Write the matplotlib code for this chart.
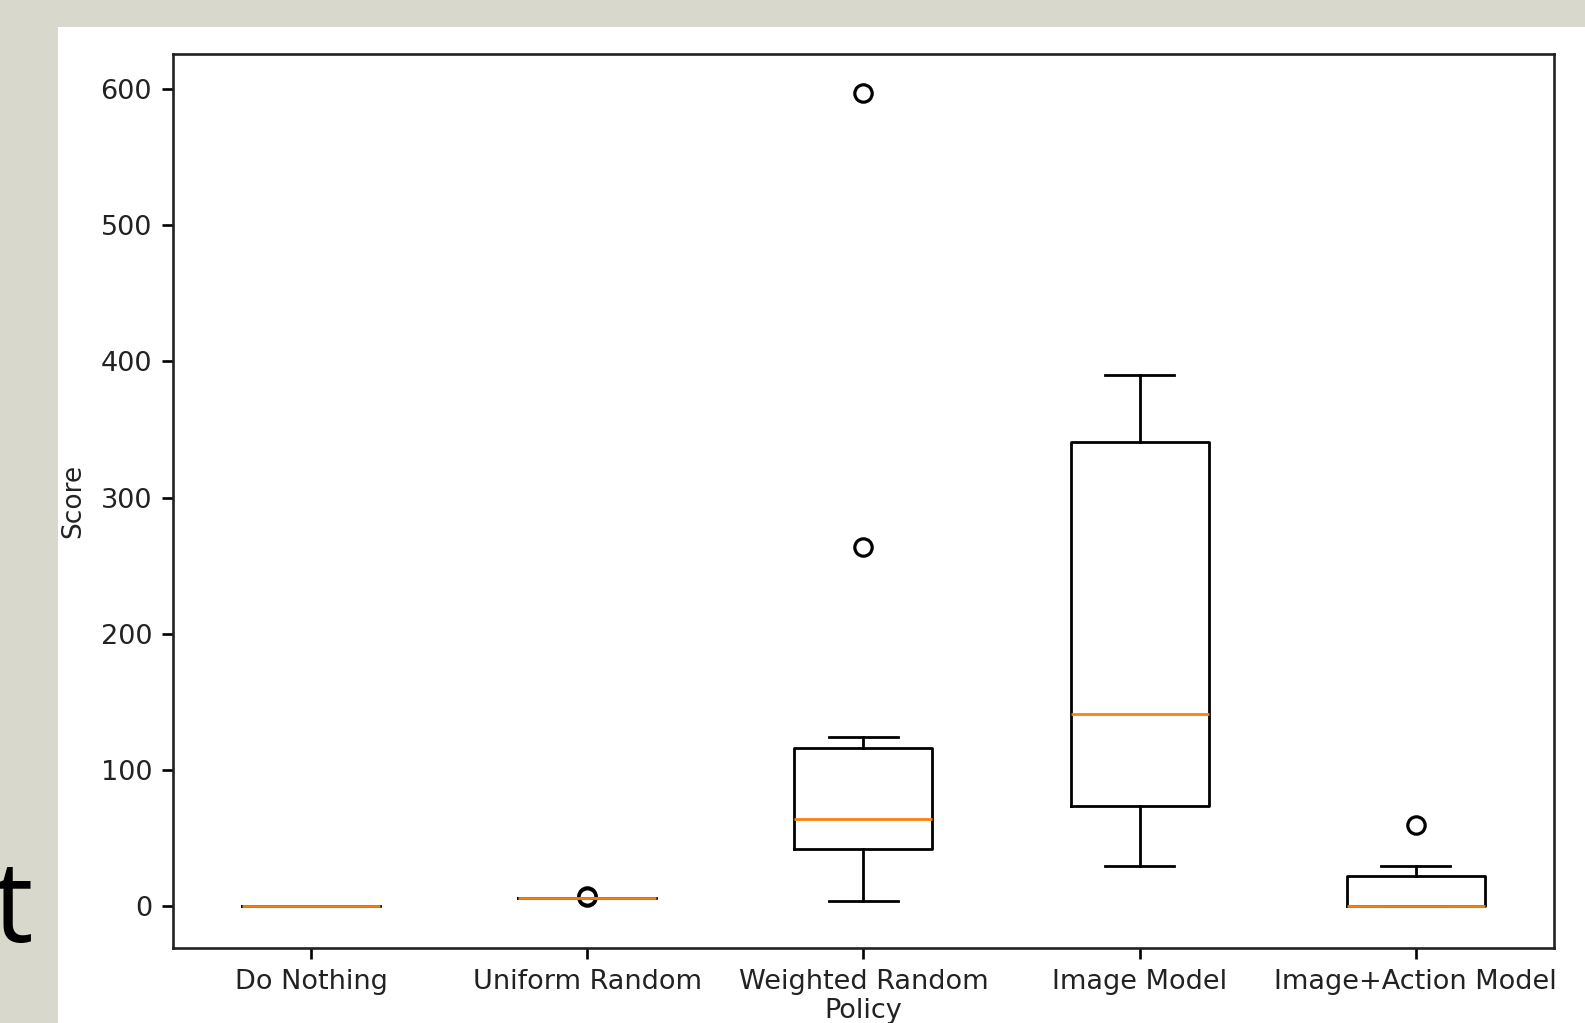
import matplotlib
matplotlib.use("Agg")
import matplotlib.pyplot as plt
from matplotlib.patches import Rectangle

# policies and box statistics
policies = ["Do Nothing", "Uniform Random", "Weighted Random", "Image Model", "Image+Action Model"]
medians = [0, 6, 64, 141, 0]
q1s = [0, 6, 42, 74, 0]
q3s = [0, 6, 116, 341, 22]
whis_lo = [0, 6, 4, 30, 0]
whis_hi = [0, 6, 124, 390, 30]
fliers = [[], [7, 8], [264, 597], [], [60]]
yticks = [0, 100, 200, 300, 400, 500, 600]

stats = []
for i in range(len(policies)):
    stats.append({
        "label": policies[i],
        "med": medians[i],
        "q1": q1s[i],
        "q3": q3s[i],
        "whislo": whis_lo[i],
        "whishi": whis_hi[i],
        "fliers": fliers[i],
    })

fig = plt.figure(figsize=(15.85, 10.23), dpi=100)
fig.patch.set_facecolor("#d9d8cc")

# white slide panel behind the chart
fig.patches.append(Rectangle((0.0364, 0.0), 1.0, 0.9733, transform=fig.transFigure,
                             facecolor="white", edgecolor="none", zorder=-10))

# cut-off slide text at the left edge
fig.text(33 / 1585, 1 - 942 / 1023, "t", fontsize=82, ha="right", va="baseline",
         color="black", family="Open Sans")

ax = fig.add_axes([0.1091, 0.0733, 0.9804 - 0.1091, 0.9472 - 0.0733])
ax.set_zorder(5)
ax.patch.set_alpha(0)
lw = 2.0
ax.bxp(stats,
       boxprops=dict(color="black", linewidth=lw),
       whiskerprops=dict(color="black", linewidth=lw),
       capprops=dict(color="black", linewidth=lw),
       medianprops=dict(color="#ff7f0e", linewidth=lw),
       flierprops=dict(marker="o", markerfacecolor="none", markeredgecolor="black",
                       markersize=12.5, markeredgewidth=2.3))

ax.set_xlim(0.5, 5.5)
ax.set_ylim(-30.5, 625.5)
ax.set_yticks(yticks)
for s in ax.spines.values():
    s.set_linewidth(1.9)
    s.set_color("#222222")
ax.tick_params(labelsize=19.5, length=8, width=1.9, labelcolor="#222222", pad=7)
ax.set_ylabel("Score", fontsize=19, color="#222222", labelpad=10)
ax.set_xlabel("Policy", fontsize=19.5, color="#222222", labelpad=2)

fig.savefig("out.png", dpi=100, facecolor=fig.get_facecolor())
